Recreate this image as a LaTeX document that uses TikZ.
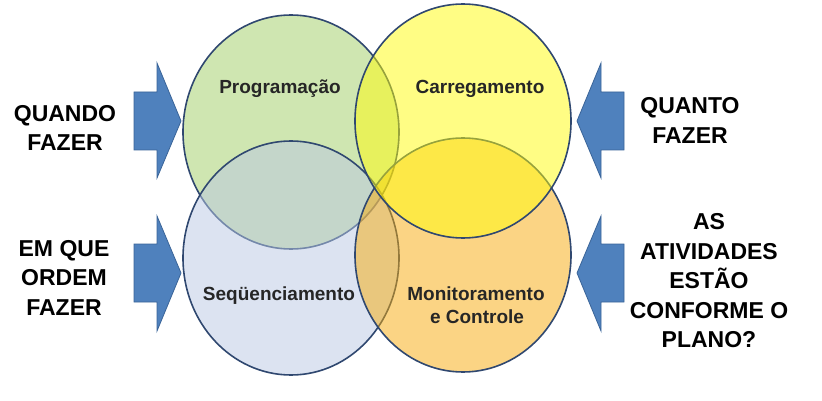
\documentclass[tikz,border=0pt]{standalone}
\usepackage{fontspec}
\setmainfont{Liberation Sans}
\usetikzlibrary{shapes.geometric}
\definecolor{rim}{RGB}{48,72,112}
\definecolor{cgreen}{RGB}{160,205,100}
\definecolor{cyellow}{RGB}{255,252,10}
\definecolor{cblue}{RGB}{185,200,228}
\definecolor{corange}{RGB}{247,170,10}
\definecolor{arrowfill}{RGB}{79,129,189}
\definecolor{arrowrim}{RGB}{58,100,152}
\tikzset{
  venn/.style={ellipse, draw=rim, line width=1.6pt, fill opacity=0.5, draw opacity=1, inner sep=0pt, minimum width=216pt, minimum height=234pt},
  bigtext/.style={font=\bfseries\fontsize{23}{29.5}\selectfont, align=center, inner sep=0pt, text=black},
  lbl/.style={font=\bfseries\fontsize{19}{23}\selectfont, anchor=base, inner sep=0pt, text=black!85},
  blockarrow/.style={fill=arrowfill, draw=arrowrim, line width=0.8pt, line join=miter}
}
\begin{document}
\begin{tikzpicture}[x=1pt,y=-1pt]
\useasboundingbox (0,0) rectangle (822,401);
% circles
\node[venn, fill=cgreen] (prog) at (291,132) {};
\node[venn, fill=cblue] (seq) at (291,258) {};
\node[venn, fill=corange] (mon) at (463,255) {};
\node[venn, fill=cyellow] (carr) at (463,121) {};
% circle labels
\node[lbl] (tprog) at (280,94) {Programação};
\node[lbl] (tcarr) at (480,94) {Carregamento};
\node[lbl] (tseq) at (279,300) {Seqüenciamento};
\node[lbl] (tmon1) at (476,300) {Monitoramento};
\node[lbl] (tmon2) at (477,323) {e Controle};
% arrows left
\draw[blockarrow] (134,92) -- (157,92) -- (157,63) -- (181,121) -- (157,178) -- (157,150) -- (134,150) -- cycle;
\draw[blockarrow] (134,244) -- (157,244) -- (157,216) -- (181,273) -- (157,331) -- (157,302) -- (134,302) -- cycle;
% arrows right
\draw[blockarrow] (624,92) -- (601,92) -- (601,63) -- (577,121) -- (601,178) -- (601,150) -- (624,150) -- cycle;
\draw[blockarrow] (624,244) -- (601,244) -- (601,216) -- (577,273) -- (601,331) -- (601,302) -- (624,302) -- cycle;
% side texts
\node[bigtext] (quando) at (65,128) {QUANDO\\FAZER};
\node[bigtext] (ordem) at (64,277.5) {EM QUE\\ORDEM\\FAZER};
\node[bigtext] (quanto) at (690,120.5) {QUANTO\\FAZER};
\node[bigtext] (plano) at (709,281) {AS\\ATIVIDADES\\ESTÃO\\CONFORME O\\PLANO?};
\end{tikzpicture}
\end{document}
